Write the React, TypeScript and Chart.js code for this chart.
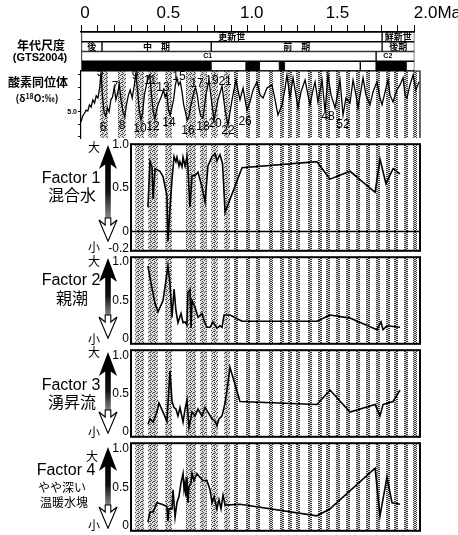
import React, { useEffect, useRef } from 'react';
import { Chart, registerables } from 'chart.js';
Chart.register(...registerables);

// ---------- data ----------
const topTickValues = [0, 0.5, 1.0, 1.5, 2.0];
const topTickLabels = ['0', '0.5', '1.0', ' 1.5', '        2.0Ma'];

const stratRows = ['epoch', 'stage', 'chron', 'polarity'];
const epochNames = ['更新世', '鮮新世'];
const epochStart = [0, 1.806];
const epochEnd = [1.806, 2.0];
const stageNames = ['後', '中　期', '前　期', '後期'];
const stageStart = [0, 0.126, 0.781, 1.806];
const stageEnd = [0.126, 0.781, 1.806, 2.0];
const chronNames = ['C1', 'C2'];
const chronStart = [0, 1.77];
const chronEnd = [1.77, 2.0];
const chronLabelAt = [0.76, 1.84];
const polarityStart = [0, 0.78, 0.99, 1.07, 1.19, 1.22, 1.675, 1.77, 1.95];
const polarityEnd = [0.78, 0.99, 1.07, 1.19, 1.22, 1.675, 1.77, 1.95, 2.0];
const polarityNormal = [true, false, true, false, true, false, false, true, false];

const isoAge = [0.000,0.010,0.020,0.030,0.040,0.050,0.060,0.070,0.080,0.090,0.100,0.110,0.118,0.126,0.136,0.146,0.156,0.166,0.176,0.186,0.196,0.206,0.216,0.226,0.236,0.248,0.258,0.268,0.280,0.290,0.302,0.314,0.324,0.334,0.344,0.354,0.364,0.374,0.386,0.396,0.406,0.416,0.426,0.436,0.446,0.456,0.466,0.476,0.486,0.496,0.506,0.516,0.526,0.536,0.546,0.556,0.566,0.576,0.586,0.596,0.606,0.616,0.626,0.636,0.646,0.656,0.666,0.676,0.686,0.696,0.706,
  0.720,0.737,0.755,0.773,0.785,0.808,0.832,0.850,0.867,0.891,0.914,0.938,0.956,0.979,0.997,1.015,1.038,1.056,1.074,1.097,1.127,1.145,1.162,1.186,1.204,1.215,1.233,1.251,1.268,1.280,1.298,1.322,1.339,1.351,1.369,1.381,1.398,1.422,1.440,1.457,1.475,1.499,1.516,1.528,1.546,1.563,1.587,1.605,1.622,1.634,1.652,1.664,1.681,1.705,1.723,1.746,1.764,1.776,1.794,1.811,1.823,1.841,1.864,1.882,1.900,1.912,1.923,1.941,1.959,1.976,1.994];
const isoD18O = [5.32,5.13,5.05,4.94,4.97,4.77,4.84,4.61,4.71,4.48,4.55,4.23,3.72,4.45,5.00,5.13,4.87,5.00,4.61,4.52,4.20,4.61,4.39,4.10,4.61,5.00,5.16,4.77,4.45,4.29,4.55,4.16,3.74,4.35,4.94,5.26,5.00,4.45,4.13,3.90,3.81,4.45,5.00,5.23,4.94,4.74,4.61,4.48,4.29,4.52,4.39,4.94,5.10,4.87,4.61,4.16,3.90,4.13,4.03,4.35,4.77,5.00,5.26,5.16,4.84,4.61,4.35,4.23,4.45,4.87,5.13,
  5.19,4.45,3.97,4.77,5.26,4.61,4.16,4.94,5.42,4.61,3.97,4.61,4.23,4.94,4.68,4.29,4.03,4.45,4.55,4.23,4.13,4.61,5.10,4.77,4.23,3.81,4.52,3.90,4.45,4.87,4.35,3.97,4.45,4.77,4.29,4.03,4.68,3.97,5.00,3.81,4.45,4.87,4.35,3.97,5.10,4.55,4.71,3.97,4.45,4.87,4.29,3.90,4.45,4.77,4.35,4.03,4.55,4.77,4.35,3.97,4.45,4.68,4.29,4.13,3.90,4.45,4.55,4.13,3.81,4.29,4.03];
const isoTickValues = [3.8,4.0,4.2,4.4,4.6,4.8,5.0,5.2,5.4,5.6,5.8];
const isoLabeledTicks = [4.0, 5.0];

const misNames = ['5','7','9','11','13','15','17','19','21','6','8','10','12','14','16','18','20','22','26','48','52'];
const misAge = [0.112,0.201,0.319,0.407,0.484,0.578,0.684,0.773,0.850,0.130,0.242,0.348,0.425,0.519,0.631,0.720,0.791,0.867,0.968,1.457,1.546];
const misD18O = [3.74,4.19,3.84,4.00,4.23,3.87,4.10,4.00,4.03,5.52,5.45,5.55,5.48,5.35,5.61,5.48,5.39,5.61,5.32,5.16,5.42];

const glacialStart = [0.112,0.218,0.319,0.395,0.496,0.619,0.702,0.767,0.844];
const glacialEnd = [0.159,0.265,0.372,0.454,0.537,0.678,0.743,0.808,0.879];
const stripeAge = [0.914,0.985,1.044,1.121,1.186,1.233,1.280,1.351,1.410,1.457,1.516,1.575,1.634,1.693,1.752,1.811,1.858,1.917,1.971];

const FACTOR_MIN_MA = 0.295;

const f1Age = [0.395,0.407,0.419,0.425,0.437,0.466,0.484,0.507,0.513,0.525,0.537,0.549,0.560,0.566,0.578,0.584,0.596,0.602,0.614,0.625,0.631,0.643,0.655,0.673,0.690,0.714,0.732,0.749,0.773,0.791,0.802,0.820,0.835,0.850,0.950,1.392,1.469,1.587,1.735,1.764,1.799,1.841,1.882];
const f1Val = [0.28,0.80,0.74,0.375,0.72,0.69,0.63,0.41,-0.11,0.26,0.60,0.86,0.80,0.85,0.75,0.80,0.74,0.85,0.75,0.86,0.72,0.28,0.64,0.64,0.68,0.51,0.34,0.75,0.86,0.89,0.81,0.88,0.78,0.22,0.73,0.80,0.60,0.69,0.45,0.83,0.55,0.72,0.66];

const f2Age = [0.395,0.407,0.425,0.437,0.454,0.484,0.507,0.513,0.525,0.537,0.549,0.560,0.572,0.590,0.602,0.614,0.625,0.631,0.643,0.649,0.655,0.673,0.690,0.714,0.726,0.743,0.761,0.779,0.802,0.820,0.832,0.844,0.879,0.950,1.392,1.469,1.587,1.746,1.770,1.782,1.805,1.882];
const f2Val = [0.95,0.80,0.59,0.46,0.35,0.50,0.85,0.95,0.72,0.28,0.65,0.37,0.21,0.33,0.21,0.22,0.18,0.60,0.64,0.14,0.50,0.41,0.28,0.33,0.24,0.15,0.15,0.22,0.14,0.17,0.15,0.31,0.31,0.23,0.23,0.31,0.27,0.12,0.22,0.12,0.17,0.15];

const f3Age = [0.395,0.407,0.425,0.448,0.460,0.484,0.507,0.525,0.537,0.549,0.560,0.572,0.584,0.602,0.614,0.625,0.637,0.655,0.673,0.690,0.714,0.732,0.749,0.773,0.791,0.802,0.814,0.832,0.850,0.867,0.879,0.938,1.392,1.469,1.587,1.735,1.764,1.782,1.841,1.882];
const f3Val = [0.10,0.17,0.13,0.26,0.38,0.26,0.14,0.80,0.40,0.32,0.30,0.21,0.32,0.13,0.30,0.42,0.06,0.26,0.21,0.30,0.21,0.32,0.26,0.17,0.14,0.08,0.17,0.21,0.38,0.64,0.85,0.40,0.36,0.55,0.26,0.36,0.21,0.36,0.40,0.55];

const f4Age = [0.395,0.407,0.425,0.448,0.478,0.507,0.513,0.519,0.537,0.543,0.555,0.566,0.578,0.590,0.602,0.608,0.614,0.619,0.625,0.631,0.637,0.649,0.655,0.667,0.684,0.702,0.720,0.743,0.761,0.773,0.785,0.802,0.814,0.826,0.838,0.850,0.938,1.392,1.469,1.735,1.764,1.805,1.835,1.882];
const f4Val = [0.05,0.18,0.18,0.30,0.28,0.25,0.06,0.22,0.22,0.47,0.11,0.30,0.38,0.56,0.68,0.47,0.56,0.38,0.63,0.30,0.51,0.56,0.68,0.59,0.68,0.63,0.59,0.59,0.47,0.30,0.38,0.22,0.34,0.22,0.40,0.27,0.28,0.13,0.22,0.75,0.13,0.63,0.30,0.28];

const f1Ticks = [-0.2, 0, 0.5, 1.0];
const fTicks = [0, 0.5, 1.0];

// ---------- styling helpers ----------
const SANS = '"Liberation Sans", Arial, sans-serif';
const JP = '"Noto Sans CJK JP", sans-serif';

function makePattern(ctx: CanvasRenderingContext2D, size: number, bg: string | null, fg: string, dots: number[][]) {
  const c = document.createElement('canvas');
  c.width = size; c.height = size;
  const g = c.getContext('2d')!;
  if (bg) { g.fillStyle = bg; g.fillRect(0, 0, size, size); }
  g.fillStyle = fg;
  dots.forEach(([x, y]) => g.fillRect(x, y, 1, 1));
  return ctx.createPattern(c, 'repeat')!;
}

const bandsPlugin = {
  id: 'bands',
  beforeDatasetsDraw(chart: any) {
    const { ctx, chartArea: a, scales } = chart;
    const x = scales.x;
    ctx.save();
    ctx.beginPath();
    ctx.rect(a.left, a.top, a.right - a.left, a.bottom - a.top);
    ctx.clip();
    ctx.fillStyle = makePattern(ctx, 4, '#dcdcdc', '#444', [[0, 0], [2, 1], [1, 3], [3, 2], [2, 3]]);
    glacialStart.forEach((s, i) => {
      const x0 = x.getPixelForValue(s), x1 = x.getPixelForValue(glacialEnd[i]);
      ctx.fillRect(x0, a.top, x1 - x0, a.bottom - a.top);
    });
    ctx.fillStyle = makePattern(ctx, 4, '#e8e8e8', '#333', [[0, 0], [1, 0], [2, 1], [3, 1], [0, 2], [1, 2], [2, 3], [3, 3]]);
    stripeAge.forEach((m) => {
      const xc = x.getPixelForValue(m);
      ctx.fillRect(Math.round(xc - 2), a.top, 4, a.bottom - a.top);
    });
    ctx.restore();
  },
};

const framePlugin = {
  id: 'frame',
  afterDatasetsDraw(chart: any, _args: any, opts: any) {
    const { ctx, chartArea: a, scales } = chart;
    ctx.save();
    ctx.strokeStyle = '#000';
    ctx.lineWidth = opts.width || 2;
    if (opts.box) {
      ctx.strokeRect(a.left, a.top, a.right - a.left, a.bottom - a.top);
    } else {
      ctx.beginPath();
      ctx.moveTo(a.left, a.top); ctx.lineTo(a.right, a.top); ctx.lineTo(a.right, a.bottom);
      ctx.stroke();
    }
    if (opts.zeroLine) {
      const yy = scales.y.getPixelForValue(0);
      ctx.lineWidth = 1.5;
      ctx.beginPath(); ctx.moveTo(a.left, yy); ctx.lineTo(a.right, yy); ctx.stroke();
    }
    ctx.restore();
  },
};

const misPlugin = {
  id: 'misLabels',
  afterDatasetsDraw(chart: any) {
    const { ctx, scales } = chart;
    ctx.save();
    ctx.fillStyle = '#000';
    ctx.font = `12px ${SANS}`;
    ctx.textAlign = 'center';
    ctx.textBaseline = 'middle';
    misNames.forEach((n, i) => {
      ctx.fillText(n, scales.x.getPixelForValue(misAge[i]), scales.y.getPixelForValue(misD18O[i]));
    });
    ctx.restore();
  },
};

const stratLabelPlugin = {
  id: 'stratLabels',
  afterDatasetsDraw(chart: any) {
    const { ctx, scales } = chart;
    ctx.save();
    ctx.fillStyle = '#000';
    ctx.textAlign = 'center';
    ctx.textBaseline = 'middle';
    const sets: [string[], number[] | null, string][] = [
      [epochNames, null, `bold 9px ${JP}`],
      [stageNames, null, `bold 9px ${JP}`],
      [chronNames, chronLabelAt, `bold 7px ${SANS}`],
    ];
    sets.forEach(([names, at, font], d) => {
      const meta = chart.getDatasetMeta(d);
      ctx.font = font;
      names.forEach((n, i) => {
        const el: any = meta.data[i];
        const cx = at ? scales.x.getPixelForValue(at[i]) : (el.x + el.base) / 2;
        ctx.fillText(n, cx, el.y);
      });
    });
    ctx.restore();
  },
};

const barBase = {
  borderColor: '#000',
  borderWidth: 1,
  borderSkipped: false,
  grouped: false,
  barPercentage: 1,
  categoryPercentage: 1,
};

function stratConfig(): any {
  return {
    type: 'bar',
    data: {
      labels: stratRows,
      datasets: [
        { ...barBase, data: epochStart.map((s, i) => ({ x: [s, epochEnd[i]], y: 'epoch' })), backgroundColor: '#fff' },
        { ...barBase, data: stageStart.map((s, i) => ({ x: [s, stageEnd[i]], y: 'stage' })), backgroundColor: '#fff' },
        { ...barBase, data: chronStart.map((s, i) => ({ x: [s, chronEnd[i]], y: 'chron' })), backgroundColor: '#fff' },
        { ...barBase, data: polarityStart.map((s, i) => ({ x: [s, polarityEnd[i]], y: 'polarity' })), backgroundColor: polarityNormal.map((n) => (n ? '#000' : '#fff')) },
      ],
    },
    options: {
      indexAxis: 'y',
      responsive: false,
      animation: false,
      events: [],
      layout: { padding: { left: 81, right: 38, top: 0, bottom: 1 } },
      plugins: { legend: { display: false }, tooltip: { enabled: false } },
      scales: {
        x: {
          type: 'linear', position: 'top', min: 0, max: 2,
          afterFit: (s: any) => { s.height = 32; },
          ticks: {
            stepSize: 0.1, autoSkip: false, maxRotation: 0, minRotation: 0, padding: 1, labelOffset: 4,
            color: '#000', font: { family: SANS, size: 17 },
            callback: (v: any) => {
              const i = topTickValues.findIndex((t) => Math.abs(t - Number(v)) < 1e-6);
              return i >= 0 ? topTickLabels[i] : '';
            },
          },
          grid: { drawOnChartArea: false, drawTicks: true, tickLength: 7, color: '#000', lineWidth: 1 },
          border: { display: true, color: '#000', width: 1.5 },
        },
        y: { type: 'category', display: false },
      },
    },
    plugins: [stratLabelPlugin],
  };
}

function isoConfig(): any {
  return {
    type: 'line',
    data: { datasets: [{ data: isoAge.map((a, i) => ({ x: a, y: isoD18O[i] })), borderColor: '#000', borderWidth: 1.3, pointRadius: 0, tension: 0, fill: false }] },
    options: {
      responsive: false, animation: false, events: [],
      layout: { padding: { top: 8, bottom: 8, left: 0, right: 38 } },
      plugins: { legend: { display: false }, tooltip: { enabled: false }, frame: { box: false, width: 1.2 } },
      scales: {
        x: { type: 'linear', min: 0, max: 2, display: false },
        y: {
          type: 'linear', reverse: true, min: 3.68, max: 5.84,
          afterBuildTicks: (ax: any) => { ax.ticks = isoTickValues.map((v) => ({ value: v })); },
          afterFit: (ax: any) => { ax.width = 81; },
          ticks: {
            padding: 1, color: '#000', font: { family: SANS, size: 7, weight: 'bold' },
            callback: (v: any) => {
              const t = isoLabeledTicks.find((l) => Math.abs(l - Number(v)) < 1e-6);
              return t !== undefined ? t.toFixed(1) : '';
            },
          },
          grid: { drawOnChartArea: false, drawTicks: true, tickLength: 3, color: '#000' },
          border: { display: true, color: '#000', width: 1.2 },
        },
      },
    },
    plugins: [bandsPlugin, framePlugin, misPlugin],
  };
}

function factorConfig(ages: number[], vals: number[], yMin: number, yMax: number, ticks: number[], zeroLine: boolean): any {
  return {
    type: 'line',
    data: { datasets: [{ data: ages.map((a, i) => ({ x: a, y: vals[i] })), borderColor: '#000', borderWidth: 1.6, pointRadius: 0, tension: 0, fill: false }] },
    options: {
      responsive: false, animation: false, events: [],
      layout: { padding: { top: 8, bottom: 8, left: 0, right: 38 } },
      plugins: { legend: { display: false }, tooltip: { enabled: false }, frame: { box: true, width: 2, zeroLine } },
      scales: {
        x: { type: 'linear', min: FACTOR_MIN_MA, max: 2.0, display: false },
        y: {
          type: 'linear', min: yMin, max: yMax,
          afterBuildTicks: (ax: any) => { ax.ticks = ticks.map((v) => ({ value: v })); },
          afterFit: (ax: any) => { ax.width = 131; },
          ticks: {
            padding: 2, color: '#000', font: { family: SANS, size: 12 },
            callback: (v: any) => (Number(v) === 0 ? '0' : Number(v).toFixed(1)),
          },
          grid: { display: false, drawTicks: false },
          border: { display: false },
        },
      },
    },
    plugins: [bandsPlugin, framePlugin],
  };
}

function ChartBox({ left, top, width, height, make }: { left: number; top: number; width: number; height: number; make: () => any }) {
  const ref = useRef<HTMLCanvasElement>(null);
  useEffect(() => {
    const chart = new Chart(ref.current!, make());
    return () => chart.destroy();
  }, []);
  return (
    <canvas ref={ref} width={width} height={height}
      style={{ position: 'absolute', left, top, width, height, display: 'block' }} />
  );
}

function Txt({ x, y, size, bold, font, children }: any) {
  return (
    <div style={{
      position: 'absolute', left: x, top: y, transform: 'translate(-50%, -50%)',
      fontSize: size, fontWeight: bold ? 'bold' : 'normal', fontFamily: font || JP,
      lineHeight: 1, whiteSpace: 'nowrap', color: '#000',
    }}>{children}</div>
  );
}

function Arrow({ id, top, bottom }: { id: string; top: number; bottom: number }) {
  const H = bottom - top;
  return (
    <svg width={20} height={H} style={{ position: 'absolute', left: 98, top }}>
      <defs>
        <linearGradient id={id} x1="0" y1="0" x2="0" y2="1">
          <stop offset="0" stopColor="#000" />
          <stop offset="0.5" stopColor="#111" />
          <stop offset="1" stopColor="#8a8a8a" />
        </linearGradient>
      </defs>
      <rect x={7.2} y={18} width={5.6} height={H - 18 - 23} fill={`url(#${id})`} />
      <polygon points={`10,0 19,24 12.8,19.5 7.2,19.5 1,24`} fill="#000" />
      <polygon points={`7.2,${H - 24} 7.2,${H - 17} 1,${H - 22} 10,${H - 0.8} 19,${H - 22} 12.8,${H - 17} 12.8,${H - 24}`}
        fill="#fff" stroke="#000" strokeWidth={1.1} strokeLinejoin="miter" />
    </svg>
  );
}

export default function App() {
  return (
    <div style={{ position: 'absolute', left: 0, top: 0, width: 458, height: 535, background: '#fff', overflow: 'hidden' }}>
      <ChartBox left={0} top={0} width={458} height={72} make={stratConfig} />
      <ChartBox left={0} top={63} width={458} height={83} make={isoConfig} />
      <ChartBox left={0} top={135} width={458} height={125} make={() => factorConfig(f1Age, f1Val, -0.22, 1.0, f1Ticks, true)} />
      <ChartBox left={0} top={248} width={458} height={105} make={() => factorConfig(f2Age, f2Val, -0.065, 1.065, fTicks, false)} />
      <ChartBox left={0} top={341} width={458} height={105} make={() => factorConfig(f3Age, f3Val, -0.065, 1.075, fTicks, false)} />
      <ChartBox left={0} top={434} width={458} height={106} make={() => factorConfig(f4Age, f4Val, -0.065, 1.075, fTicks, false)} />

      <Txt x={41} y={45} size={12} bold>年代尺度</Txt>
      <Txt x={40} y={57} size={11} bold font={SANS}>(GTS2004)</Txt>
      <Txt x={38} y={82} size={12} bold>酸素同位体</Txt>
      <Txt x={37} y={98} size={10} bold>(δ<span style={{ fontSize: 7, position: 'relative', top: -3 }}>18</span>O:‰)</Txt>

      <Arrow id="a1" top={145} bottom={242} />
      <Arrow id="a2" top={258} bottom={339} />
      <Arrow id="a3" top={352} bottom={434} />
      <Arrow id="a4" top={447} bottom={529} />

      <Txt x={94} y={147} size={12}>大</Txt>
      <Txt x={71} y={178} size={16} font={SANS}>Factor 1</Txt>
      <Txt x={72} y={194} size={16}>混合水</Txt>
      <Txt x={94} y={247} size={12}>小</Txt>

      <Txt x={94} y={261} size={12}>大</Txt>
      <Txt x={71} y={280} size={16} font={SANS}>Factor 2</Txt>
      <Txt x={72} y={297} size={16}>親潮</Txt>
      <Txt x={94} y={339} size={12}>小</Txt>

      <Txt x={94} y={352} size={12}>大</Txt>
      <Txt x={71} y={385} size={16} font={SANS}>Factor 3</Txt>
      <Txt x={72} y={401} size={16}>湧昇流</Txt>
      <Txt x={94} y={432} size={12}>小</Txt>

      <Txt x={92} y={456} size={12}>大</Txt>
      <Txt x={66} y={470} size={16} font={SANS}>Factor 4</Txt>
      <Txt x={62} y={487} size={12}>やや深い</Txt>
      <Txt x={64} y={502} size={12}>温暖水塊</Txt>
      <Txt x={94} y={525} size={12}>小</Txt>
    </div>
  );
}
